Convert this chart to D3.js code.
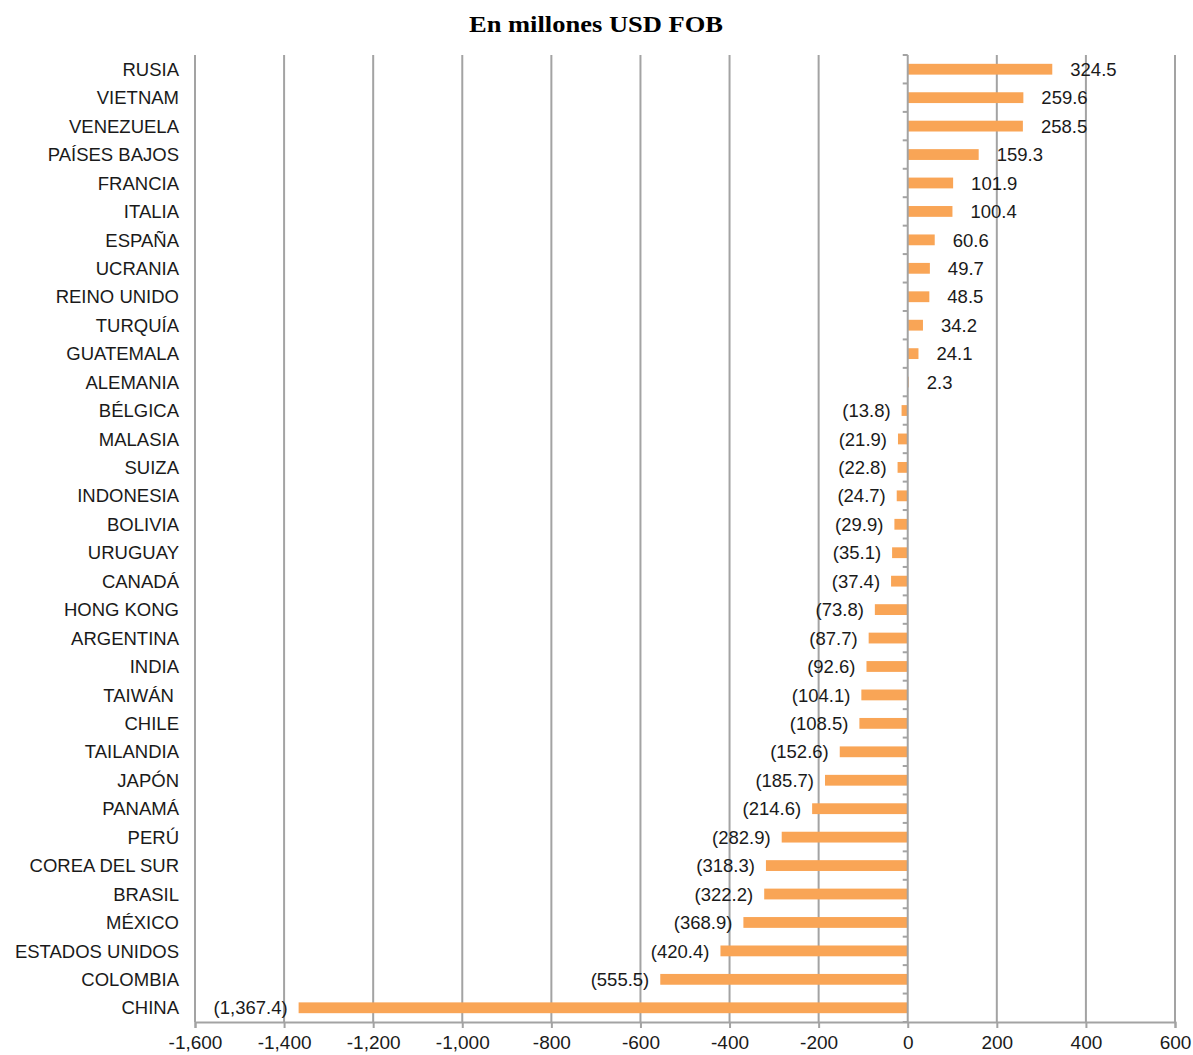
<!DOCTYPE html>
<html>
<head>
<meta charset="utf-8">
<script src="https://cdn.jsdelivr.net/npm/d3@7"></script>
<style>
  html, body { margin: 0; padding: 0; background: #fff; }
  svg { display: block; }
  text { font-family: "Liberation Sans", Arial, sans-serif; fill: #1a1a1a; }
</style>
</head>
<body>
<svg id="chart" width="1193" height="1055"></svg>
<script>
const title = "En millones USD FOB";
const countries = ["RUSIA","VIETNAM","VENEZUELA","PAÍSES BAJOS","FRANCIA","ITALIA","ESPAÑA","UCRANIA","REINO UNIDO","TURQUÍA","GUATEMALA","ALEMANIA","BÉLGICA","MALASIA","SUIZA","INDONESIA","BOLIVIA","URUGUAY","CANADÁ","HONG KONG","ARGENTINA","INDIA","TAIWÁN ","CHILE","TAILANDIA","JAPÓN","PANAMÁ","PERÚ","COREA DEL SUR","BRASIL","MÉXICO","ESTADOS UNIDOS","COLOMBIA","CHINA"];
const values = [324.5,259.6,258.5,159.3,101.9,100.4,60.6,49.7,48.5,34.2,24.1,2.3,-13.8,-21.9,-22.8,-24.7,-29.9,-35.1,-37.4,-73.8,-87.7,-92.6,-104.1,-108.5,-152.6,-185.7,-214.6,-282.9,-318.3,-322.2,-368.9,-420.4,-555.5,-1367.4];
const tickValues = [-1600,-1400,-1200,-1000,-800,-600,-400,-200,0,200,400,600];
const tickLabels = ["-1,600","-1,400","-1,200","-1,000","-800","-600","-400","-200","0","200","400","600"];

(function () {
const svg = d3.select("#chart");
const mLeft = 195, mRight = 1175, mTop = 55, mBottom = 1022;
const x = d3.scaleLinear().domain([-1600, 600]).range([mLeft, mRight]);
const y = d3.scaleBand().domain(countries).range([mTop, mBottom]).paddingInner(0.62).paddingOuter(0.31);
const gridColor = "#a3a3a3";
const barColor = "#F9A556";

// title
svg.append("text").attr("x", 596).attr("y", 32).attr("text-anchor", "middle")
  .attr("textLength", 254).attr("lengthAdjust", "spacingAndGlyphs")
  .style("font-family", "'Liberation Serif', 'Times New Roman', serif")
  .style("font-weight", "bold").style("font-size", "23px").style("fill", "#000")
  .text(title);

// gridlines
svg.append("g").selectAll("line").data(tickValues.filter(d => d !== 0)).join("line")
  .attr("x1", d => x(d)).attr("x2", d => x(d))
  .attr("y1", mTop).attr("y2", mBottom)
  .attr("stroke", gridColor).attr("stroke-width", 2);

// bottom axis
const xAxis = d3.axisBottom(x).tickValues(tickValues)
  .tickFormat((d, i) => tickLabels[i]).tickSize(6).tickPadding(8);
const gx = svg.append("g").attr("transform", `translate(0,${mBottom})`).call(xAxis);
gx.select(".domain").attr("stroke", gridColor).attr("stroke-width", 2);
gx.selectAll(".tick line").attr("stroke", gridColor).attr("stroke-width", 2);
gx.selectAll(".tick text").style("font-family", "'Liberation Sans', Arial, sans-serif")
  .style("font-size", "19px").attr("fill", "#1a1a1a");

// bars
svg.append("g").selectAll("rect").data(values).join("rect")
  .attr("x", d => x(Math.min(0, d)))
  .attr("width", d => Math.abs(x(d) - x(0)))
  .attr("y", (d, i) => y(countries[i]))
  .attr("height", y.bandwidth())
  .attr("fill", barColor);

// zero axis with category ticks
const step = y.step();
const boundaries = d3.range(countries.length + 1).map(i => mTop + i * step);
const g0 = svg.append("g");
g0.append("line").attr("x1", x(0)).attr("x2", x(0)).attr("y1", mTop).attr("y2", mBottom)
  .attr("stroke", gridColor).attr("stroke-width", 2);
g0.selectAll("line.t").data(boundaries).join("line").attr("class", "t")
  .attr("x1", x(0) - 5).attr("x2", x(0)).attr("y1", d => d).attr("y2", d => d)
  .attr("stroke", gridColor).attr("stroke-width", 2);

// category labels
svg.append("g").selectAll("text").data(countries).join("text")
  .attr("x", 179).attr("y", d => y(d) + y.bandwidth() / 2)
  .attr("dy", "0.36em").attr("text-anchor", "end")
  .style("font-size", "18.5px").style("white-space", "pre")
  .text(d => d);

// value labels
const fmt = d3.format(",.1f");
svg.append("g").selectAll("text").data(values).join("text")
  .attr("x", d => d >= 0 ? x(d) + 18 : x(d) - 11)
  .attr("y", (d, i) => y(countries[i]) + y.bandwidth() / 2)
  .attr("dy", "0.36em")
  .attr("text-anchor", d => d >= 0 ? "start" : "end")
  .style("font-size", "18.5px")
  .text(d => d >= 0 ? fmt(d) : "(" + fmt(-d) + ")");
})();
</script>
</body>
</html>
